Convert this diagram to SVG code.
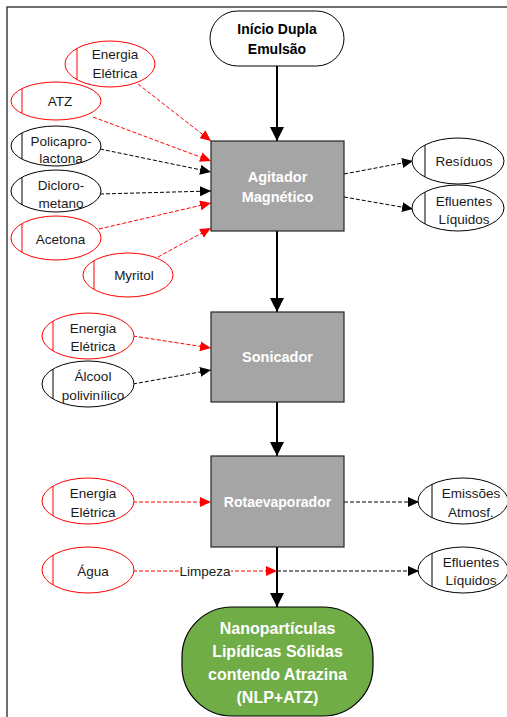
<svg xmlns="http://www.w3.org/2000/svg" width="507" height="717" viewBox="0 0 507 717">
<style>
text{font-family:"Liberation Sans",Arial,sans-serif;text-anchor:middle;dominant-baseline:central}
.lbl{font-size:13.5px;fill:#1a1a1a}
.w{font-weight:bold;fill:#ffffff}
.b{font-weight:bold;fill:#000}
.er{fill:#fff;stroke:#ff0000;stroke-width:1}
.eb{fill:#fff;stroke:#000;stroke-width:1}
.vr{stroke:#ff0000;stroke-width:1}
.vb{stroke:#000;stroke-width:1}
.box{fill:#a5a5a5;stroke:#262626;stroke-width:1.2}
.solid{stroke:#000;stroke-width:2;fill:none;marker-end:url(#big)}
.dr{stroke:#ff0000;stroke-width:1;stroke-dasharray:4 2;fill:none;marker-end:url(#ar)}
.db{stroke:#000;stroke-width:1;stroke-dasharray:4 2;fill:none;marker-end:url(#ab)}
</style>
<defs>
<marker id="big" markerUnits="userSpaceOnUse" markerWidth="14" markerHeight="14" viewBox="0 0 14 14" refX="14" refY="7" orient="auto"><path d="M0,0 L14,7 L0,14 z" fill="#000"/></marker>
<marker id="ar" markerUnits="userSpaceOnUse" markerWidth="11" markerHeight="10" viewBox="0 0 11 10" refX="11" refY="5" orient="auto"><path d="M0,0 L11,5 L0,10 z" fill="#ff0000"/></marker>
<marker id="ab" markerUnits="userSpaceOnUse" markerWidth="11" markerHeight="10" viewBox="0 0 11 10" refX="11" refY="5" orient="auto"><path d="M0,0 L11,5 L0,10 z" fill="#000"/></marker>
</defs>
<rect width="507" height="717" fill="#fff"/>
<path d="M7,717 L7,7 L507,7" fill="none" stroke="#404040" stroke-width="1.5"/>

<g id="connectors">
<line class="solid" x1="277" y1="66" x2="277" y2="141"/>
<line class="solid" x1="277" y1="231" x2="277" y2="312"/>
<line class="solid" x1="277" y1="402" x2="277" y2="456"/>
<line class="solid" x1="277" y1="547" x2="277" y2="607"/>
<line class="dr" x1="138" y1="84" x2="211" y2="141"/>
<line class="dr" x1="93" y1="117" x2="211" y2="161"/>
<line class="db" x1="100" y1="149" x2="211" y2="172"/>
<line class="db" x1="100" y1="194" x2="211" y2="191"/>
<line class="dr" x1="99" y1="229" x2="211" y2="203"/>
<line class="dr" x1="158" y1="257" x2="211" y2="228"/>
<line class="db" x1="344" y1="174" x2="413" y2="161"/>
<line class="db" x1="344" y1="197" x2="413" y2="209"/>
<line class="dr" x1="133" y1="336" x2="211" y2="348"/>
<line class="db" x1="133" y1="384" x2="211" y2="370"/>
<line class="dr" x1="133" y1="502" x2="211" y2="502"/>
<line class="db" x1="344" y1="502" x2="419" y2="502"/>
<line class="dr" x1="133" y1="571" x2="277" y2="571"/>
<line class="db" x1="277" y1="571" x2="419" y2="571"/>
<rect x="179" y="563" width="52" height="16" fill="#fff"/>
<text class="lbl" x="205" y="571">Limpeza</text>
</g>

<g id="inicio">
<rect x="210" y="11" width="134" height="55" rx="27.5" fill="#fff" stroke="#000" stroke-width="1"/>
<text class="b" font-size="14" x="277" y="29">Início Dupla</text>
<text class="b" font-size="14" x="277" y="49">Emulsão</text>
</g>

<g id="agitador">
<rect class="box" x="211" y="141" width="133" height="90"/>
<text class="w" font-size="14.5" x="277.5" y="177">Agitador</text>
<text class="w" font-size="14.5" x="277.5" y="197">Magnético</text>
</g>

<g id="sonicador">
<rect class="box" x="211" y="312" width="133" height="90"/>
<text class="w" font-size="14.5" x="277.5" y="357">Sonicador</text>
</g>

<g id="rotaevaporador">
<rect class="box" x="211" y="456" width="133" height="91"/>
<text class="w" font-size="14" x="277.5" y="502">Rotaevaporador</text>
</g>

<g id="nlp">
<rect x="182" y="607" width="191" height="109" rx="50" ry="50" fill="#70ad47" stroke="#000" stroke-width="1.2"/>
<text class="w" font-size="16" x="277.5" y="628">Nanopartículas</text>
<text class="w" font-size="16" x="277.5" y="651">Lipídicas Sólidas</text>
<text class="w" font-size="16" x="277.5" y="674">contendo Atrazina</text>
<text class="w" font-size="16" x="277.5" y="697">(NLP+ATZ)</text>
</g>

<g id="energia1">
<ellipse class="er" cx="110" cy="64" rx="45" ry="23"/>
<line class="vr" x1="77" y1="48" x2="77" y2="80"/>
<text class="lbl" x="115" y="54">Energia</text>
<text class="lbl" x="115" y="73">Elétrica</text>
</g>
<g id="atz">
<ellipse class="er" cx="56" cy="101" rx="45" ry="19"/>
<line class="vr" x1="22" y1="89" x2="22" y2="113"/>
<text class="lbl" x="60" y="101">ATZ</text>
</g>
<g id="policaprolactona">
<ellipse class="eb" cx="56" cy="146" rx="45" ry="20"/>
<line class="vb" x1="22" y1="133" x2="22" y2="159"/>
<text class="lbl" x="61" y="141">Policapro-</text>
<text class="lbl" x="61" y="158">lactona</text>
</g>
<g id="diclorometano">
<ellipse class="eb" cx="56" cy="191" rx="45" ry="21"/>
<line class="vb" x1="22" y1="177" x2="22" y2="205"/>
<text class="lbl" x="61" y="185">Dicloro-</text>
<text class="lbl" x="61" y="203">metano</text>
</g>
<g id="acetona">
<ellipse class="er" cx="56" cy="238" rx="45" ry="22"/>
<line class="vr" x1="22" y1="224" x2="22" y2="252"/>
<text class="lbl" x="60.5" y="239">Acetona</text>
</g>
<g id="myritol">
<ellipse class="er" cx="128" cy="275" rx="45" ry="22"/>
<line class="vr" x1="94" y1="261" x2="94" y2="289"/>
<text class="lbl" x="134" y="275">Myritol</text>
</g>
<g id="residuos">
<ellipse class="eb" cx="458" cy="161" rx="46" ry="23"/>
<line class="vb" x1="425" y1="145" x2="425" y2="177"/>
<text class="lbl" x="464" y="161">Resíduos</text>
</g>
<g id="efluentes1">
<ellipse class="eb" cx="458" cy="208" rx="46" ry="23"/>
<line class="vb" x1="425" y1="192" x2="425" y2="224"/>
<text class="lbl" x="464" y="201">Efluentes</text>
<text class="lbl" x="464" y="219">Líquidos</text>
</g>
<g id="energia2">
<ellipse class="er" cx="88" cy="336" rx="46" ry="23"/>
<line class="vr" x1="53" y1="321" x2="53" y2="351"/>
<text class="lbl" x="93" y="328">Energia</text>
<text class="lbl" x="93" y="346">Elétrica</text>
</g>
<g id="alcool">
<ellipse class="eb" cx="88" cy="384" rx="46" ry="23"/>
<line class="vb" x1="53" y1="369" x2="53" y2="399"/>
<text class="lbl" x="93" y="376">Álcool</text>
<text class="lbl" x="93" y="395">polivinílico</text>
</g>
<g id="energia3">
<ellipse class="er" cx="88" cy="501" rx="46" ry="23"/>
<line class="vr" x1="53" y1="486" x2="53" y2="516"/>
<text class="lbl" x="93" y="493">Energia</text>
<text class="lbl" x="93" y="512">Elétrica</text>
</g>
<g id="agua">
<ellipse class="er" cx="88" cy="570" rx="46" ry="23"/>
<line class="vr" x1="53" y1="555" x2="53" y2="585"/>
<text class="lbl" x="93" y="571">Água</text>
</g>
<g id="emissoes">
<ellipse class="eb" cx="463" cy="501" rx="45" ry="23"/>
<line class="vb" x1="432" y1="484" x2="432" y2="518"/>
<text class="lbl" x="471" y="493">Emissões</text>
<text class="lbl" x="471" y="512">Atmosf.</text>
</g>
<g id="efluentes2">
<ellipse class="eb" cx="463" cy="570" rx="45" ry="23"/>
<line class="vb" x1="432" y1="553" x2="432" y2="587"/>
<text class="lbl" x="471" y="562">Efluentes</text>
<text class="lbl" x="471" y="580">Líquidos</text>
</g>
</svg>
